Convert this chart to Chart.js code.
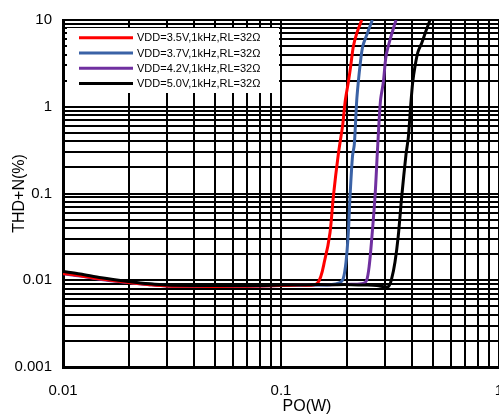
<!DOCTYPE html>
<html>
<head>
<meta charset="utf-8">
<script src="https://cdn.jsdelivr.net/npm/chart.js@4.4.1/dist/chart.umd.min.js"></script>
<style>
html,body{margin:0;padding:0;overflow:hidden;background:#fff;width:499px;height:416px;}
#wrap{position:absolute;left:0;top:0;width:561px;height:416px;}
</style>
</head>
<body>
<div id="wrap"><canvas id="c" width="561" height="416"></canvas></div>
<script>
// ---- Data ----
const seriesLabels = [
  'VDD=3.5V,1kHz,RL=32Ω',
  'VDD=3.7V,1kHz,RL=32Ω',
  'VDD=4.2V,1kHz,RL=32Ω',
  'VDD=5.0V,1kHz,RL=32Ω'
];
const seriesColors = ['#ff0000', '#3a62a6', '#7030a0', '#000000'];

const xRed = [0.01, 0.012, 0.015, 0.02, 0.025, 0.03, 0.04, 0.06, 0.08, 0.1, 0.12, 0.1467, 0.1592, 0.1678, 0.1738, 0.1832, 0.1919, 0.1972, 0.2036, 0.2088, 0.2147, 0.2225, 0.2346];
const yRed = [0.0120, 0.0113, 0.0103, 0.0094, 0.0089, 0.0086, 0.0085, 0.0085, 0.0086, 0.0087, 0.0088, 0.0092, 0.0176, 0.0353, 0.0918, 0.283, 0.618, 1.18, 1.91, 2.94, 4.95, 7.0, 10];

const xBlue = [0.01, 0.012, 0.015, 0.02, 0.025, 0.03, 0.04, 0.06, 0.08, 0.1, 0.13, 0.1678, 0.1865, 0.1931, 0.1987, 0.2036, 0.2073, 0.2128, 0.2169, 0.2225, 0.2262, 0.2303, 0.2370, 0.2488, 0.2623];
const yBlue = [0.0121, 0.0114, 0.0104, 0.0095, 0.0090, 0.0087, 0.0086, 0.0086, 0.0087, 0.0087, 0.0088, 0.0089, 0.0094, 0.0105, 0.0162, 0.0353, 0.0918, 0.269, 0.367, 1.18, 1.91, 2.94, 4.95, 7.0, 10];

const xPurple = [0.01, 0.012, 0.015, 0.02, 0.025, 0.03, 0.04, 0.06, 0.08, 0.1, 0.13, 0.17, 0.21, 0.2385, 0.2472, 0.2541, 0.2607, 0.2699, 0.2772, 0.2860, 0.2947, 0.3032, 0.3162, 0.3370];
const yPurple = [0.0119, 0.0112, 0.0102, 0.0094, 0.0089, 0.0086, 0.0085, 0.0085, 0.0086, 0.0087, 0.0088, 0.0089, 0.0090, 0.0092, 0.0100, 0.0149, 0.0297, 0.0918, 0.322, 1.18, 1.91, 3.82, 5.9, 10];

const xBlack = [0.01, 0.012, 0.015, 0.02, 0.025, 0.03, 0.04, 0.06, 0.08, 0.1, 0.13, 0.17, 0.21, 0.25, 0.2748, 0.3106, 0.3220, 0.3334, 0.3451, 0.3579, 0.3745, 0.3837, 0.3936, 0.4019, 0.4119, 0.4250, 0.4418, 0.4626, 0.4826];
const yBlack = [0.0126, 0.0118, 0.0107, 0.0097, 0.0091, 0.0088, 0.0087, 0.0087, 0.0087, 0.0088, 0.0089, 0.0089, 0.0089, 0.0088, 0.0087, 0.00845, 0.0105, 0.0162, 0.0324, 0.0918, 0.283, 0.44, 1.04, 1.91, 2.94, 4.29, 5.4, 7.5, 10];

const seriesX = [xRed, xBlue, xPurple, xBlack];
const seriesY = [yRed, yBlue, yPurple, yBlack];
const seriesOrder = [1, 1, 1, 0];

// tick labels
const xLabelValues = [0.01, 0.1, 1];
const xLabelTexts = ['0.01', '0.1', '1'];
const yLabelValues = [0.001, 0.01, 0.1, 1, 10];
const yLabelTexts = ['0.001', '0.01', '0.1', '1', '10'];
const xTitle = 'PO(W)';
const yTitle = 'THD+N(%)';

// ---- grid positions (log minor grid 1..9 per decade) ----
function logGrid(minExp, maxExp) {
  const out = [];
  for (let e = minExp; e < maxExp; e++) {
    for (let m = 1; m <= 9; m++) out.push(m * Math.pow(10, e));
  }
  out.push(Math.pow(10, maxExp));
  return out;
}
const xGrid = logGrid(-2, 0);
const yGrid = logGrid(-3, 1);

function labelFor(v, vals, texts) {
  for (let i = 0; i < vals.length; i++) {
    if (Math.abs(Math.log10(v) - Math.log10(vals[i])) < 1e-6) return texts[i];
  }
  return '';
}

const FONT = '"Liberation Sans", Arial, sans-serif';

const boxLegend = {
  id: 'boxLegend',
  beforeDatasetsDraw(chart) {
    const {ctx, chartArea} = chart;
    const x0 = chartArea.left + 4, y0 = chartArea.top + 8, w = 212, h = 65;
    ctx.save();
    ctx.fillStyle = '#ffffff';
    ctx.fillRect(x0, y0, w, h);
    ctx.font = '11px ' + FONT;
    ctx.textBaseline = 'middle';
    ctx.textAlign = 'left';
    chart.data.datasets.forEach((ds, i) => {
      const y = y0 + 9.7 + i * 15.3;
      ctx.strokeStyle = ds.borderColor;
      ctx.lineWidth = 3;
      ctx.beginPath();
      ctx.moveTo(x0 + 12, y);
      ctx.lineTo(x0 + 66, y);
      ctx.stroke();
      ctx.fillStyle = '#000';
      ctx.fillText(ds.label, x0 + 70, y + 0.5);
    });
    ctx.restore();
  }
};

const datasets = seriesLabels.map((lab, i) => ({
  label: lab,
  data: seriesX[i].map((x, j) => ({x: x, y: seriesY[i][j]})),
  borderColor: seriesColors[i],
  backgroundColor: seriesColors[i],
  borderWidth: 3,
  pointRadius: 0,
  fill: false,
  tension: 0.3,
  order: seriesOrder[i]
}));

new Chart(document.getElementById('c').getContext('2d'), {
  type: 'line',
  data: { datasets: datasets },
  options: {
    responsive: false,
    animation: false,
    devicePixelRatio: 1,
    layout: { padding: { top: 13, right: 10, bottom: 0, left: 0 } },
    plugins: { legend: { display: false }, tooltip: { enabled: false } },
    scales: {
      x: {
        type: 'logarithmic',
        position: 'bottom',
        min: 0.01,
        max: 1.732,
        afterBuildTicks: s => { s.ticks = xGrid.map(v => ({value: v})); },
        afterFit: s => { s.height = 49; },
        ticks: {
          autoSkip: false, maxRotation: 0, minRotation: 0, padding: 15, color: '#000',
          font: { family: FONT, size: 15 },
          callback: v => labelFor(v, xLabelValues, xLabelTexts)
        },
        grid: { color: '#000', lineWidth: 2, drawTicks: false },
        border: { color: '#000', width: 3 },
        title: { display: true, text: xTitle, color: '#000', font: { family: FONT, size: 16 }, padding: { top: 0, bottom: 0 } }
      },
      y: {
        type: 'logarithmic',
        position: 'left',
        min: 0.001,
        max: 10,
        afterBuildTicks: s => { s.ticks = yGrid.map(v => ({value: v})); },
        afterFit: s => { s.width = 63; },
        ticks: {
          autoSkip: false, padding: 11, color: '#000',
          font: { family: FONT, size: 15 },
          callback: v => labelFor(v, yLabelValues, yLabelTexts)
        },
        grid: { color: '#000', lineWidth: 2, drawTicks: false },
        border: { color: '#000', width: 3 },
        title: { display: true, text: yTitle, color: '#000', font: { family: FONT, size: 16 }, padding: { top: 10, bottom: 0 } }
      }
    }
  },
  plugins: [boxLegend]
});
</script>
</body>
</html>
